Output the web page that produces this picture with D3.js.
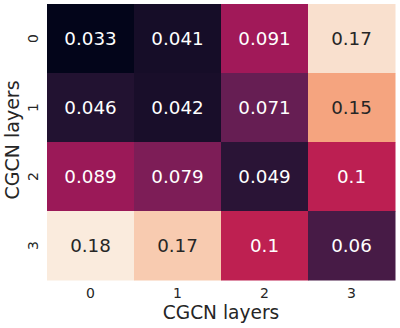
<!DOCTYPE html>
<html><head><meta charset="utf-8">
<script src="https://cdn.jsdelivr.net/npm/d3@7"></script>
<style>body{margin:0;background:#fff}svg{display:block}text{font-family:"DejaVu Sans",sans-serif}</style>
</head><body><svg id="c" width="400" height="328"></svg>
<script>
const rowLabels = ["0","1","2","3"];
const colLabels = ["0","1","2","3"];
const row0 = [0.033, 0.041, 0.091, 0.174];
const row1 = [0.046, 0.042, 0.071, 0.152];
const row2 = [0.089, 0.079, 0.049, 0.101];
const row3 = [0.178, 0.166, 0.102, 0.060];
const matrix = [row0, row1, row2, row3];
const xTitle = "CGCN layers";
const yTitle = "CGCN layers";
const rocketStops = [0, 1/7, 2/7, 3/7, 4/7, 5/7, 6/7, 1];
const rocketColors = ["#03051a","#35193e","#701f57","#ad1759","#e13342","#f37651","#f6b48f","#faebdd"];

(function(){
const svg = d3.select("#c");
const L = 47, R = 395, T = 4, B = 280;
const x = d3.scaleBand().domain(colLabels).range([L, R]);
const y = d3.scaleBand().domain(rowLabels).range([T, B]);
const all = matrix.flat();
const norm = d3.scaleLinear().domain([d3.min(all), d3.max(all)]).range([0,1]).clamp(true);
const cmap = d3.scaleLinear().domain(rocketStops).range(rocketColors).interpolate(d3.interpolateRgb);
const fmt = d3.format(".2~g");
const cells = [];
matrix.forEach((r,i)=>r.forEach((v,j)=>cells.push({r:rowLabels[i], c:colLabels[j], v})));

function lum(col){
  const c = d3.rgb(col);
  const f = u => { u/=255; return u<=0.03928? u/12.92 : Math.pow((u+0.055)/1.055,2.4); };
  return 0.2126*f(c.r)+0.7152*f(c.g)+0.0722*f(c.b);
}

svg.append("g").selectAll("rect").data(cells).join("rect")
  .attr("x", d=>x(d.c)).attr("y", d=>y(d.r))
  .attr("width", x.bandwidth()+0.5).attr("height", y.bandwidth()+0.5)
  .attr("fill", d=>cmap(norm(d.v)));

svg.append("g").selectAll("text").data(cells).join("text")
  .attr("x", d=>x(d.c)+x.bandwidth()/2).attr("y", d=>y(d.r)+y.bandwidth()/2)
  .attr("text-anchor","middle").attr("dominant-baseline","central")
  .attr("font-size", 18.3)
  .attr("fill", d=> lum(cmap(norm(d.v))) > 0.408 ? "#262626" : "#ffffff")
  .text(d=>fmt(d.v));

const xAxis = d3.axisBottom(x).tickSize(0).tickPadding(8);
const gx = svg.append("g").attr("transform",`translate(0,${B})`).call(xAxis);
gx.select(".domain").remove();
gx.selectAll("text").attr("font-size",14).attr("fill","#262626").attr("font-family","DejaVu Sans");

const yAxis = d3.axisLeft(y).tickSize(0).tickPadding(0);
const gy = svg.append("g").attr("transform",`translate(${L},0)`).call(yAxis);
gy.select(".domain").remove();
gy.selectAll("text").attr("font-size",14).attr("fill","#262626").attr("font-family","DejaVu Sans")
  .attr("text-anchor","middle").attr("dy",null).attr("x",0).attr("y",0)
  .attr("dominant-baseline","central")
  .attr("transform","translate(-14,0) rotate(-90)");

svg.append("text").attr("x",(L+R)/2).attr("y",319)
  .attr("text-anchor","middle").attr("font-size",18.6).attr("fill","#262626").text(xTitle);
svg.append("text").attr("transform",`translate(19,${(T+B)/2 - 2}) rotate(-90)`)
  .attr("text-anchor","middle")
  .attr("font-size",19).attr("fill","#262626").text(yTitle);
})();
</script></body></html>
